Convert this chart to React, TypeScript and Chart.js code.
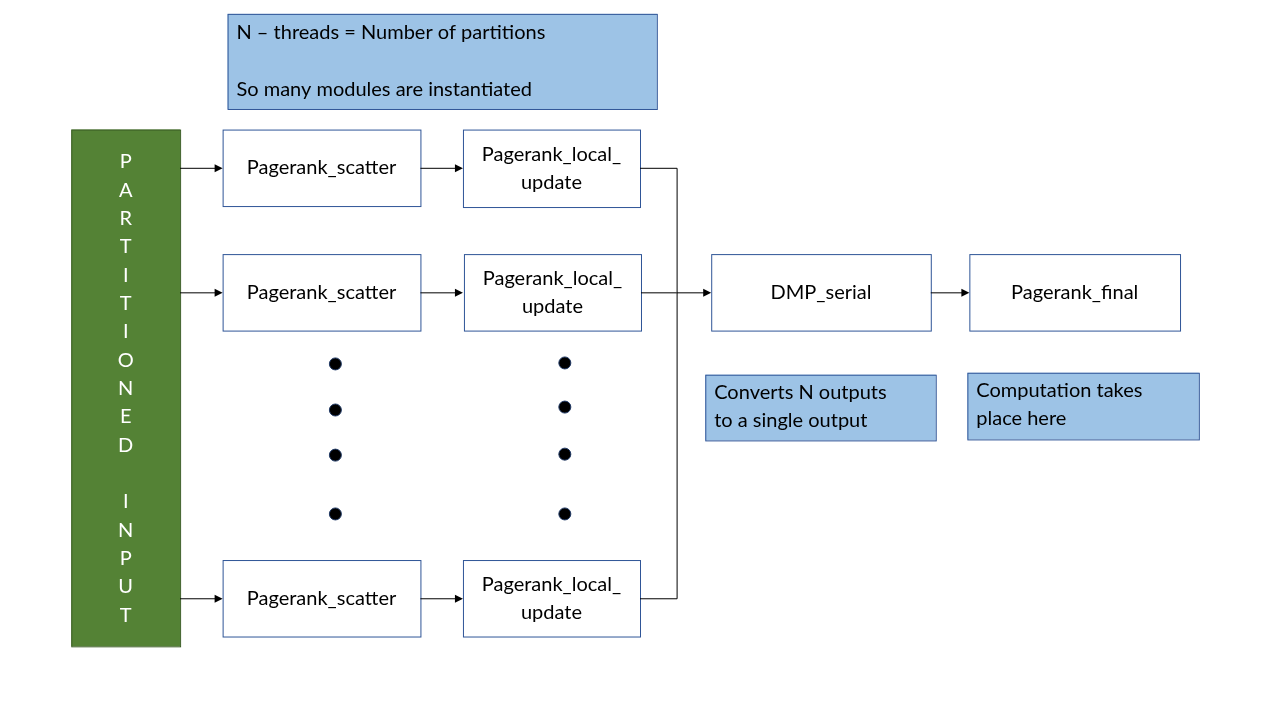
import React, { useEffect, useRef } from "react";
import { Chart, registerables } from "chart.js";
Chart.register(...registerables);

// Diagram content
const boxLabels = ["Pagerank_scatter", "Pagerank_scatter", "Pagerank_scatter", "Pagerank_local_\nupdate", "Pagerank_local_\nupdate", "Pagerank_local_\nupdate", "DMP_serial", "Pagerank_final"];
const boxRects = [[218,125,418,203],[218,252,418,330],[218,564,418,642],[461,125,640,204],[462,252,641,330],[461,564,640,642],[712,252,934,330],[973,252,1186,330]];
const noteLabels = ["Converts N outputs\nto a single output", "Computation takes\nplace here"];
const noteRects = [[706,375,939,442],[971,373,1205,441]];
const topNoteLines = ["N – threads = Number of partitions", "So many modules are instantiated"];
const sideLetters = "PARTITIONED INPUT".split("");
const dotX = [332,332,332,332,564,564,564,564];
const dotY = [364,411,457,517,363,408,456,517];
const arrows = [[175,164,218],[175,291,218],[175,603,218],[418,164,461],[418,291,461],[418,603,461],[677,291,712],[934,291,973]];

const FONT = '20px Lato, "Open Sans", sans-serif';

const diagram = {
  id: "diagram",
  beforeDatasetsDraw(chart: any) {
    const { ctx } = chart;
    const X = (v: number) => chart.scales.x.getPixelForValue(v);
    const Y = (v: number) => chart.scales.y.getPixelForValue(v);
    const rect = (r: number[], fill: string, stroke: string) => {
      ctx.fillStyle = fill; ctx.fillRect(X(r[0]), Y(r[1]), X(r[2]) - X(r[0]), Y(r[3]) - Y(r[1]));
      ctx.strokeStyle = stroke; ctx.lineWidth = 1;
      ctx.strokeRect(X(r[0]) + 0.5, Y(r[1]) + 0.5, X(r[2]) - X(r[0]), Y(r[3]) - Y(r[1]));
    };
    ctx.save();
    ctx.font = FONT; ctx.textBaseline = "middle";
    // top note
    rect([223,7,657,104], "#9DC3E6", "#2F5597");
    ctx.fillStyle = "#000"; ctx.textAlign = "left";
    ctx.fillText(topNoteLines[0], X(232), Y(26));
    ctx.fillText(topNoteLines[1], X(232), Y(84));
    // side bar
    rect([65,125,175,652], "#548235", "#3B5E25");
    ctx.fillStyle = "#fff"; ctx.textAlign = "center";
    sideLetters.forEach((c, i) => { if (c !== " ") ctx.fillText(c, X(120), Y(158 + i * 28.9)); });
    // boxes
    boxRects.forEach((r, i) => {
      rect(r, "#fff", "#2F5597");
      const lines = boxLabels[i].split("\n");
      ctx.fillStyle = "#000"; ctx.textAlign = "center";
      const cy = (r[1] + r[3]) / 2, cx = (r[0] + r[2]) / 2;
      lines.forEach((l, j) => ctx.fillText(l, X(cx), Y(cy + (j - (lines.length - 1) / 2) * 29)));
    });
    noteRects.forEach((r, i) => {
      rect(r, "#9DC3E6", "#2F5597");
      ctx.fillStyle = "#000"; ctx.textAlign = "left";
      noteLabels[i].split("\n").forEach((l, j) => ctx.fillText(l, X(r[0] + 9), Y(r[1] + 18 + j * 29)));
    });
    // connectors
    ctx.strokeStyle = "#000"; ctx.lineWidth = 1;
    ctx.beginPath();
    ctx.moveTo(X(640), Y(164) + 0.5); ctx.lineTo(X(677) + 0.5, Y(164) + 0.5);
    ctx.lineTo(X(677) + 0.5, Y(603) + 0.5); ctx.lineTo(X(640), Y(603) + 0.5);
    ctx.moveTo(X(641), Y(291) + 0.5); ctx.lineTo(X(677), Y(291) + 0.5);
    ctx.stroke();
    arrows.forEach(([x1, y, x2]) => {
      ctx.beginPath(); ctx.moveTo(X(x1), Y(y) + 0.5); ctx.lineTo(X(x2) - 6, Y(y) + 0.5); ctx.stroke();
      ctx.beginPath(); ctx.moveTo(X(x2), Y(y) + 0.5); ctx.lineTo(X(x2) - 8, Y(y) - 3.5); ctx.lineTo(X(x2) - 8, Y(y) + 4.5); ctx.closePath();
      ctx.fillStyle = "#000"; ctx.fill();
    });
    ctx.restore();
  },
};

export default function App() {
  const ref = useRef<HTMLCanvasElement>(null);
  useEffect(() => {
    document.body.style.margin = "0";
    const chart = new Chart(ref.current!, {
      type: "scatter",
      data: { datasets: [{ data: dotX.map((x, i) => ({ x, y: dotY[i] })), backgroundColor: "#000", borderColor: "#1F3864", borderWidth: 1, pointRadius: 6, pointStyle: "circle" }] },
      options: {
        animation: false, responsive: false, devicePixelRatio: 1,
        layout: { padding: 0 },
        plugins: { legend: { display: false }, tooltip: { enabled: false } },
        scales: {
          x: { type: "linear", min: 0, max: 1280, display: false },
          y: { type: "linear", min: 0, max: 720, reverse: true, display: false },
        },
      },
      plugins: [diagram],
    });
    return () => chart.destroy();
  }, []);
  return <canvas ref={ref} width={1280} height={720} style={{ display: "block" }} />;
}
